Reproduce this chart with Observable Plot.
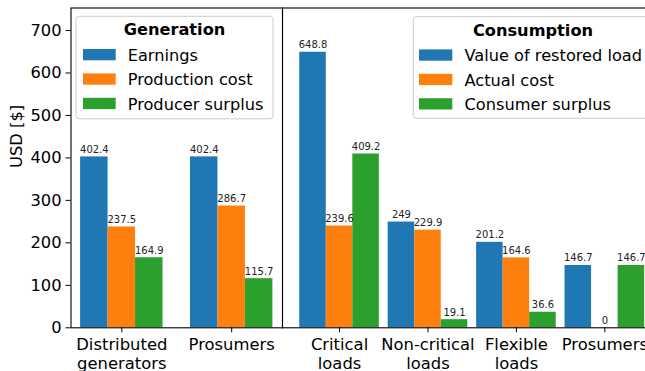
<!DOCTYPE html>
<html><head><meta charset="utf-8">
<script src="https://cdn.jsdelivr.net/npm/d3@7"></script>
<script src="https://cdn.jsdelivr.net/npm/@observablehq/plot@0.6"></script>
<style>
body{margin:0;background:#fff;}
#wrap{position:relative;width:645px;height:371px;overflow:hidden;font-family:'DejaVu Sans';}
#wrap > svg{position:absolute;top:0;}
</style></head><body><div id="wrap"></div>
<script>
// ---- data ----
const genCategories = ["Distributed\ngenerators", "Prosumers"];
const genSeries = ["Earnings", "Production cost", "Producer surplus"];
const genEarnings = [402.4, 402.4];
const genCost = [237.5, 286.7];
const genSurplus = [164.9, 115.7];

const conCategories = ["Critical\nloads", "Non-critical\nloads", "Flexible\nloads", "Prosumers"];
const conSeries = ["Value of restored load", "Actual cost", "Consumer surplus"];
const conValue = [648.8, 249, 201.2, 146.7];
const conCost = [239.6, 229.9, 164.6, 0];
const conSurplus = [409.2, 19.1, 36.6, 146.7];

const yTicks = [0, 100, 200, 300, 400, 500, 600, 700];
const yLabel = "USD [$]";
const genTitle = "Generation";
const conTitle = "Consumption";
const colors = ["#1f77b4", "#ff7f0e", "#2ca02c"];

const wrap = document.getElementById("wrap");
const H = 371, mTop = 7.5, mBottom = 43.7, yMax = 753;

function panel({categories, series, arrays, bw, xDomain, width, left, marginLeft, showY}) {
  const rows = categories.flatMap((c, i) => arrays.map((arr, s) => ({i, s, name: series[s], value: arr[i]})));
  const cx = d => d.i + (d.s - 1) * bw;
  const marks = [
    Plot.rect(rows, {x1: d => cx(d) - bw / 2, x2: d => cx(d) + bw / 2, y1: 0, y2: "value", fill: "name"}),
    Plot.text(rows, {x: cx, y: "value", text: d => String(d.value), lineAnchor: "bottom", dy: -4, fontSize: 10, fill: "#222"}),
    Plot.frame({stroke: "black", strokeWidth: 1.1}),
    Plot.axisX({ticks: categories.map((c, i) => i), tickFormat: i => categories[i], tickSize: 5, tickPadding: 4.4, fontSize: 16.4, lineHeight: 1.14, label: null})
  ];
  if (showY) {
    marks.push(Plot.axisY({ticks: yTicks, tickSize: 5, tickPadding: 4.5, fontSize: 16.3, label: null}));
    marks.push(Plot.text([yLabel], {frameAnchor: "left", dx: -54, rotate: -90, fontSize: 16.3, text: d => d}));
  }
  const svg = Plot.plot({
    width, height: H,
    marginLeft, marginRight: 0, marginTop: mTop, marginBottom: mBottom,
    x: {type: "linear", domain: xDomain, axis: null},
    y: {domain: [0, yMax], axis: null},
    color: {type: "ordinal", domain: series, range: colors},
    style: {fontFamily: "DejaVu Sans", fontSize: "16px", color: "black", background: "transparent", overflow: "visible"},
    marks
  });
  svg.style.left = left + "px";
  wrap.appendChild(svg);
}

panel({categories: genCategories, series: genSeries, arrays: [genEarnings, genCost, genSurplus],
  bw: 0.25, xDomain: [-0.4625, 1.4625], width: 282, left: 0, marginLeft: 70.5, showY: true});
panel({categories: conCategories, series: conSeries, arrays: [conValue, conCost, conSurplus],
  bw: 0.3, xDomain: [-0.645, 3.645], width: 379.4, left: 282, marginLeft: 0, showY: false});

// ---- legends (overlay) ----
const ov = d3.select(wrap).append("svg").attr("width", 645).attr("height", H).style("left", "0px")
  .style("font-family", "'DejaVu Sans'");
function legend(box, title, titleX, series, swX, swW, lblX) {
  const g = ov.append("g");
  g.append("rect").attr("x", box[0]).attr("y", box[1]).attr("width", box[2]).attr("height", box[3])
    .attr("rx", 3).attr("fill", "white").attr("fill-opacity", 0.85).attr("stroke", "#cccccc").attr("stroke-width", 1);
  g.append("text").attr("x", titleX).attr("y", box[1] + 19).attr("text-anchor", "middle")
    .attr("font-weight", "bold").attr("font-size", 16.2).text(title);
  series.forEach((s, k) => {
    g.append("rect").attr("x", swX).attr("y", box[1] + 32.7 + k * 24.4).attr("width", swW).attr("height", 11.3).attr("fill", colors[k]);
    g.append("text").attr("x", lblX).attr("y", box[1] + 44.5 + k * 24.4).attr("font-size", 16.2).text(s);
  });
}
legend([76, 16.3, 197, 102.5], genTitle, 174.5, genSeries, 83, 32.7, 127.7);
legend([413.3, 16.7, 239.4, 101.6], conTitle, 533, conSeries, 419, 33.3, 464.5);
</script></body></html>
